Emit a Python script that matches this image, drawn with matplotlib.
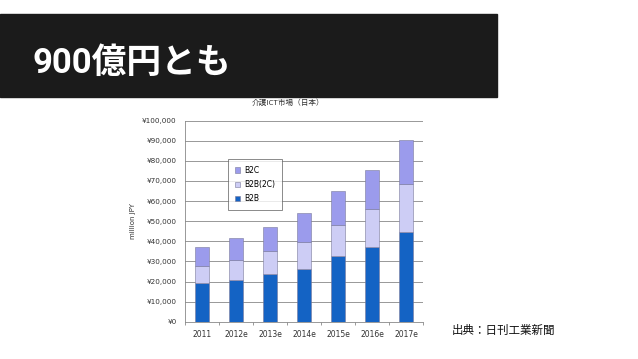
import matplotlib
matplotlib.use("Agg")
import matplotlib.pyplot as plt
from matplotlib.patches import Rectangle
import numpy as np

plt.rcParams['font.family'] = ['Noto Sans CJK JP', 'DejaVu Sans']

years = ['2011', '2012e', '2013e', '2014e', '2015e', '2016e', '2017e']
b2b = [19500, 20700, 23500, 26000, 32700, 37350, 44500]
b2b2c = [8200, 10000, 11500, 13700, 15500, 18850, 24200]
b2c = [9500, 11000, 12350, 14150, 16800, 19500, 21650]

col_b2b = '#1463c4'
col_b2b2c = '#cdcdf5'
col_b2c = '#9b9bec'

fig = plt.figure(figsize=(6.38, 3.59), dpi=100)

# dark banner with headline
fig.patches.append(Rectangle((0, 1 - 96.5 / 359), 497 / 638, (96.5 - 14) / 359,
                             transform=fig.transFigure, color='#1b1b1b', zorder=0))
fig.text(32 / 638, 1 - 63 / 359, '900億円とも', color='white', fontsize=25,
         fontweight='bold', va='center', ha='left',
         family=['Roboto', 'Noto Sans CJK JP'])

ax = fig.add_axes([185 / 638, 1 - 321.7 / 359, 238 / 638, 201 / 359])
x = np.arange(len(years))
w = 0.4
bottom2 = np.array(b2b)
bottom3 = bottom2 + np.array(b2b2c)
ax.bar(x, b2b, w, color=col_b2b, edgecolor='#7a7a9a', linewidth=0.4, label='B2B', zorder=3)
ax.bar(x, b2b2c, w, bottom=bottom2, color=col_b2b2c, edgecolor='#7a7a9a', linewidth=0.4,
       label='B2B(2C)', zorder=3)
ax.bar(x, b2c, w, bottom=bottom3, color=col_b2c, edgecolor='#7a7a9a', linewidth=0.4,
       label='B2C', zorder=3)

ax.set_xlim(-0.5, len(years) - 0.5)
ax.set_ylim(0, 100000)
ax.set_yticks(range(0, 100001, 10000))
ax.set_yticklabels(['¥{:,}'.format(v) for v in range(0, 100001, 10000)],
                   fontsize=5.2, color='#333333', family=['DejaVu Sans'])
ax.set_xticks(x)
ax.set_xticklabels(years, fontsize=5.5, color='#333333', family=['DejaVu Sans'])
ax.tick_params(axis='both', length=0, pad=6)
ax.set_xticks(np.arange(-0.5, len(years)), minor=True)
ax.tick_params(axis='x', which='minor', length=2, color='#888888')
ax.grid(axis='y', color='#888888', linewidth=0.6, zorder=0)
for s in ['top', 'right']:
    ax.spines[s].set_visible(False)
ax.spines['left'].set_color('#888888')
ax.spines['bottom'].set_color('#888888')
ax.spines['left'].set_linewidth(0.6)
ax.spines['bottom'].set_linewidth(0.6)
ax.set_ylabel('million JPY', fontsize=5, color='#333333', family=['DejaVu Sans'], labelpad=4)

h, l = ax.get_legend_handles_labels()
leg = ax.legend(h[::-1], l[::-1], loc='upper left', bbox_to_anchor=(0.18, 0.81),
                borderaxespad=0, frameon=True, fancybox=False, edgecolor='#555555',
                handlelength=0.7, handleheight=0.7, labelspacing=0.7, borderpad=0.9,
                handletextpad=0.5, prop={'family': 'DejaVu Sans', 'size': 5.5})
leg.get_frame().set_linewidth(0.6)
leg._legend_box.align = 'left'

fig.text(288 / 638, 1 - 103 / 359, '介護ICT市場（日本）', fontsize=5.5, color='#333333',
         ha='center', va='center')
fig.text(452 / 638, 1 - 330 / 359, '出典：日刊工業新聞', fontsize=8.3, color='#111111',
         ha='left', va='center')

fig.savefig('out.png', dpi=100)
